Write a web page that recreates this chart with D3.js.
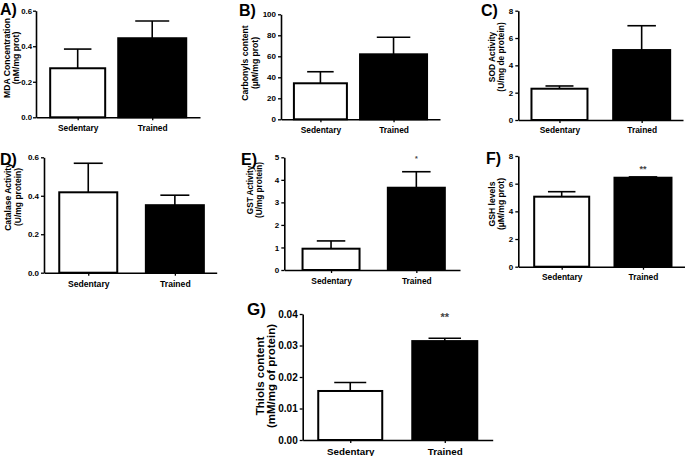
<!DOCTYPE html>
<html><head><meta charset="utf-8">
<script src="https://cdn.jsdelivr.net/npm/d3@7"></script>
<style>
html,body{margin:0;padding:0;background:#fff;}
svg text{font-family:"Liberation Sans",Arial,sans-serif;font-weight:bold;fill:#000;}
</style></head>
<body>
<svg id="chart" width="685" height="456"></svg>
<script>
// ---- data ----
const categories = ["Sedentary", "Trained"];
const mdaMean = [0.276, 0.445];       const mdaSem = [0.108, 0.097];
const carbonylMean = [34.3, 61.9];    const carbonylSem = [11.0, 16.2];
const sodMean = [2.29, 5.12];         const sodSem = [0.20, 1.78];
const catalaseMean = [0.418, 0.351];  const catalaseSem = [0.151, 0.052];
const gstMean = [0.945, 3.65];        const gstSem = [0.345, 0.71];
const gshMean = [5.06, 6.43];         const gshSem = [0.36, 0.06];
const thiolsMean = [0.01556, 0.0314]; const thiolsSem = [0.0027, 0.0009];
const ticksA = [0, 0.2, 0.4, 0.6];
const ticksB = [0, 20, 40, 60, 80, 100];
const ticksC = [0, 2, 4, 6, 8];
const ticksD = [0, 0.2, 0.4, 0.6];
const ticksE = [0, 1, 2, 3, 4, 5];
const ticksF = [0, 2, 4, 6, 8];
const ticksG = [0, 0.01, 0.02, 0.03, 0.04];
const gstSig = ["", "*"];
const gshSig = ["", "**"];
const thiolsSig = ["", "**"];
const titles = ["A)", "B)", "C)", "D)", "E)", "F)", "G)"];
const yLabels = [
  ["MDA Concentration", "(nM/mg prot)"],
  ["Carbonyls content", "(\u00b5M/mg prot)"],
  ["SOD Activity", "(U/mg de protein)"],
  ["Catalase Activity", "(U/mg protein)"],
  ["GST Activity", "(U/mg protein)"],
  ["GSH levels", "(\u00b5M/mg prot)"],
  ["Thiols content", "(mM/mg of protein)"]
];

// ---- layout (positions / styles) ----
const panels = [
  {mean: mdaMean, sem: mdaSem, ticks: ticksA, fmt: ".1f", ax: 36, ae: 200, yt: 10.7, y0: 117.3, pad: 0.60, align: 0.466, bw: [55, 68],
   tx: 0, ty: 15, tfs: 16, l1x: 7, l2x: 15.5, lcy: 58, lfs: 8.6, tickFs: 7.8, tp: 1, catFs: 8.4, catDy: 12},
  {mean: carbonylMean, sem: carbonylSem, ticks: ticksB, fmt: "d", ax: 281, ae: 440, yt: 14.3, y0: 119.3, pad: 0.587, align: 0.459, bw: [53, 67],
   tx: 239, ty: 15.5, tfs: 16, l1x: 245, l2x: 255, lcy: 63, lfs: 8.6, tickFs: 8, tp: 2, catFs: 8.4, catDy: 12},
  {mean: sodMean, sem: sodSem, ticks: ticksC, fmt: "d", ax: 518.3, ae: 683, yt: 10.7, y0: 120, pad: 0.502, align: 0.499, bw: [56, 57],
   tx: 481, ty: 15.5, tfs: 16, l1x: 491.5, l2x: 500.5, lcy: 57, lfs: 8.4, tickFs: 8, tp: 2, catFs: 8.4, catDy: 11},
  {mean: catalaseMean, sem: catalaseSem, ticks: ticksD, fmt: ".1f", ax: 44, ae: 216.7, yt: 157.3, y0: 272.7, pad: 0.497, align: 0.514, bw: [58, 58],
   tx: 0, ty: 165, tfs: 16, l1x: 8, l2x: 17.5, lcy: 197, lfs: 8.5, tickFs: 8, tp: 2, catFs: 8.6, catDy: 12},
  {mean: gstMean, sem: gstSem, ticks: ticksE, fmt: "d", ax: 284.3, ae: 460, yt: 157.3, y0: 270, pad: 0.53, align: 0.517, bw: [57, 57],
   tx: 241, ty: 165, tfs: 16, l1x: 250, l2x: 259, lcy: 190, lfs: 8.2, tickFs: 8, tp: 2, catFs: 8.4, catDy: 12, sig: gstSig, sigV: 5.0, sigFs: 7},
  {mean: gshMean, sem: gshSem, ticks: ticksF, fmt: "d", ax: 518.3, ae: 690, yt: 156, y0: 266.7, pad: 0.556, align: 0.48, bw: [55, 57],
   tx: 486, ty: 164, tfs: 16, l1x: 491.5, l2x: 500.5, lcy: 204, lfs: 8.6, tickFs: 8, tp: 2, catFs: 8.4, catDy: 11, sig: gshSig, sigV: 7.2, sigFs: 9},
  {mean: thiolsMean, sem: thiolsSem, ticks: ticksG, fmt: ".2f", ax: 302.7, ae: 492.7, yt: 314, y0: 440, pad: 0.505, align: 0.498, bw: [64, 65],
   tx: 247, ty: 315, tfs: 17, l1x: 260, l2x: 270.5, lcy: 376, lfs: 11.5, tickFs: 10, tp: 2, catFs: 9.8, catDy: 12, sig: thiolsSig, sigV: 0.0398, sigFs: 11}
];

const svg = d3.select("#chart");
const fills = ["#ffffff", "#000000"];

panels.forEach((p, i) => {
  const g = svg.append("g");
  const y = d3.scaleLinear().domain([0, d3.max(p.ticks)]).range([p.y0, p.yt]);
  const x = d3.scalePoint().domain(categories).range([p.ax, p.ae]).padding(p.pad).align(p.align);

  // title
  g.append("text").attr("x", p.tx).attr("y", p.ty).attr("font-size", p.tfs).text(titles[i]);

  // y label
  [p.l1x, p.l2x].forEach((lx, k) => {
    g.append("text")
      .attr("transform", `translate(${lx},${p.lcy}) rotate(-90)`)
      .attr("text-anchor", "middle").attr("dominant-baseline", "central")
      .attr("font-size", p.lfs).text(yLabels[i][k]);
  });

  // error bars (drawn first, bar covers lower part)
  categories.forEach((c, j) => {
    const cx = x(c), top = y(p.mean[j] + p.sem[j]), half = p.bw[j] / 4;
    g.append("line").attr("x1", cx).attr("x2", cx).attr("y1", y(p.mean[j])).attr("y2", top)
      .attr("stroke", "#000").attr("stroke-width", 1.6);
    g.append("line").attr("x1", cx - half).attr("x2", cx + half).attr("y1", top).attr("y2", top)
      .attr("stroke", "#000").attr("stroke-width", 1.6);
  });

  // bars
  categories.forEach((c, j) => {
    g.append("rect")
      .attr("x", x(c) - p.bw[j] / 2).attr("width", p.bw[j])
      .attr("y", y(p.mean[j])).attr("height", y(0) - y(p.mean[j]))
      .attr("fill", fills[j]).attr("stroke", "#000").attr("stroke-width", 2);
  });

  // y axis
  const ya = g.append("g").attr("transform", `translate(${p.ax},0)`)
    .call(d3.axisLeft(y).tickValues(p.ticks).tickFormat(d3.format(p.fmt)).tickSize(3).tickSizeOuter(0).tickPadding(p.tp));
  ya.select(".domain").attr("stroke-width", 1.6);
  ya.selectAll(".tick line").attr("stroke-width", 1.3);
  ya.selectAll("text").attr("font-size", p.tickFs).attr("font-family", null);

  // x axis
  const xa = g.append("g").attr("transform", `translate(0,${p.y0})`)
    .call(d3.axisBottom(x).tickSize(3).tickSizeOuter(0).tickPadding(p.catDy - 7));
  xa.select(".domain").attr("stroke-width", 1.6);
  xa.selectAll(".tick line").attr("stroke-width", 1.3);
  xa.selectAll("text").attr("font-size", p.catFs).attr("font-family", null);

  // significance marks
  if (p.sig) {
    categories.forEach((c, j) => {
      if (!p.sig[j]) return;
      g.append("text").attr("x", x(c)).attr("y", y(p.sigV) + p.sigFs * 0.55)
        .attr("text-anchor", "middle").attr("font-size", p.sigFs)
        .attr("font-weight", "normal").style("fill", "#444").text(p.sig[j]);
    });
  }
});
</script>
</body></html>
